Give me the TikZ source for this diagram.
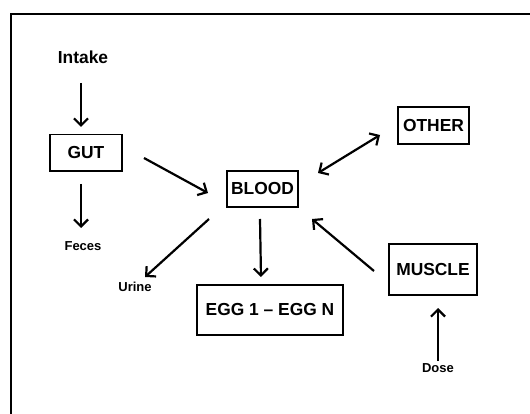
\documentclass[tikz,border=0pt]{standalone}
\usepackage{fontspec}
\setmainfont{Liberation Sans}
\usetikzlibrary{arrows.meta}
\begin{document}
\begin{tikzpicture}[x=1pt,y=-1pt,
  box/.style={draw,line width=1.5pt,inner sep=0pt,font=\fontsize{17.4}{20}\selectfont\bfseries},
  bigtxt/.style={inner sep=0pt,font=\fontsize{17.4}{20}\selectfont\bfseries},
  smalltxt/.style={inner sep=0pt,font=\fontsize{13}{15}\selectfont\bfseries},
  arr/.style={line width=2.2pt,-{Straight Barb[length=7pt,width=14pt,line width=2.2pt]}},
  darr/.style={line width=2.2pt,{Straight Barb[length=7pt,width=14pt,line width=2.2pt]}-{Straight Barb[length=7pt,width=14pt,line width=2.2pt]}}]
\useasboundingbox (0,0) rectangle (530,414);
\clip (0,0) rectangle (530,414);
\fill[white] (0,0) rectangle (530,414);
\draw[line width=2.4pt] (535,14) -- (11,14) -- (11,420);

\node[bigtxt] (intake) at (83,57.5) {Intake};
\node[box,minimum width=72pt,minimum height=36.5pt] (gut) at (86,153) {GUT};
\node[smalltxt] (feces) at (83,246) {Feces};
\node[box,minimum width=71pt,minimum height=36pt] (blood) at (262.5,189) {BLOOD};
\node[box,minimum width=71pt,minimum height=37pt] (other) at (433.5,125.5) {OTHER};
\node[smalltxt] (urine) at (135,287) {Urine};
\node[box,minimum width=146pt,minimum height=50pt] (egg) at (270,310) {EGG 1 -- EGG N};
\node[box,minimum width=88pt,minimum height=51pt] (muscle) at (433,269.5) {MUSCLE};
\node[smalltxt] (dose) at (438,368) {Dose};

\coordinate (intakeout) at (81,83);
\coordinate (gutin) at (81,127);
\coordinate (gutdown) at (81,184);
\coordinate (fecesin) at (81,228);
\coordinate (gutout) at (144,158);
\coordinate (bloodinL) at (208,193);
\coordinate (bloodOther) at (318,173);
\coordinate (otherin) at (380,135);
\coordinate (bloodurine) at (209,219);
\coordinate (urinein) at (145,277);
\coordinate (bloodegg) at (260,219);
\coordinate (eggin) at (261,277);
\coordinate (muscleout) at (374,271);
\coordinate (bloodinR) at (312,219);
\coordinate (doseout) at (438,361);
\coordinate (musclein) at (438,308);

\draw[arr] (intakeout) -- (gutin);
\draw[arr] (gutdown) -- (fecesin);
\draw[arr] (gutout) -- (bloodinL);
\draw[darr] (bloodOther) -- (otherin);
\draw[arr] (bloodurine) -- (urinein);
\draw[arr] (bloodegg) -- (eggin);
\draw[arr] (muscleout) -- (bloodinR);
\draw[arr] (doseout) -- (musclein);
\end{tikzpicture}
\end{document}
